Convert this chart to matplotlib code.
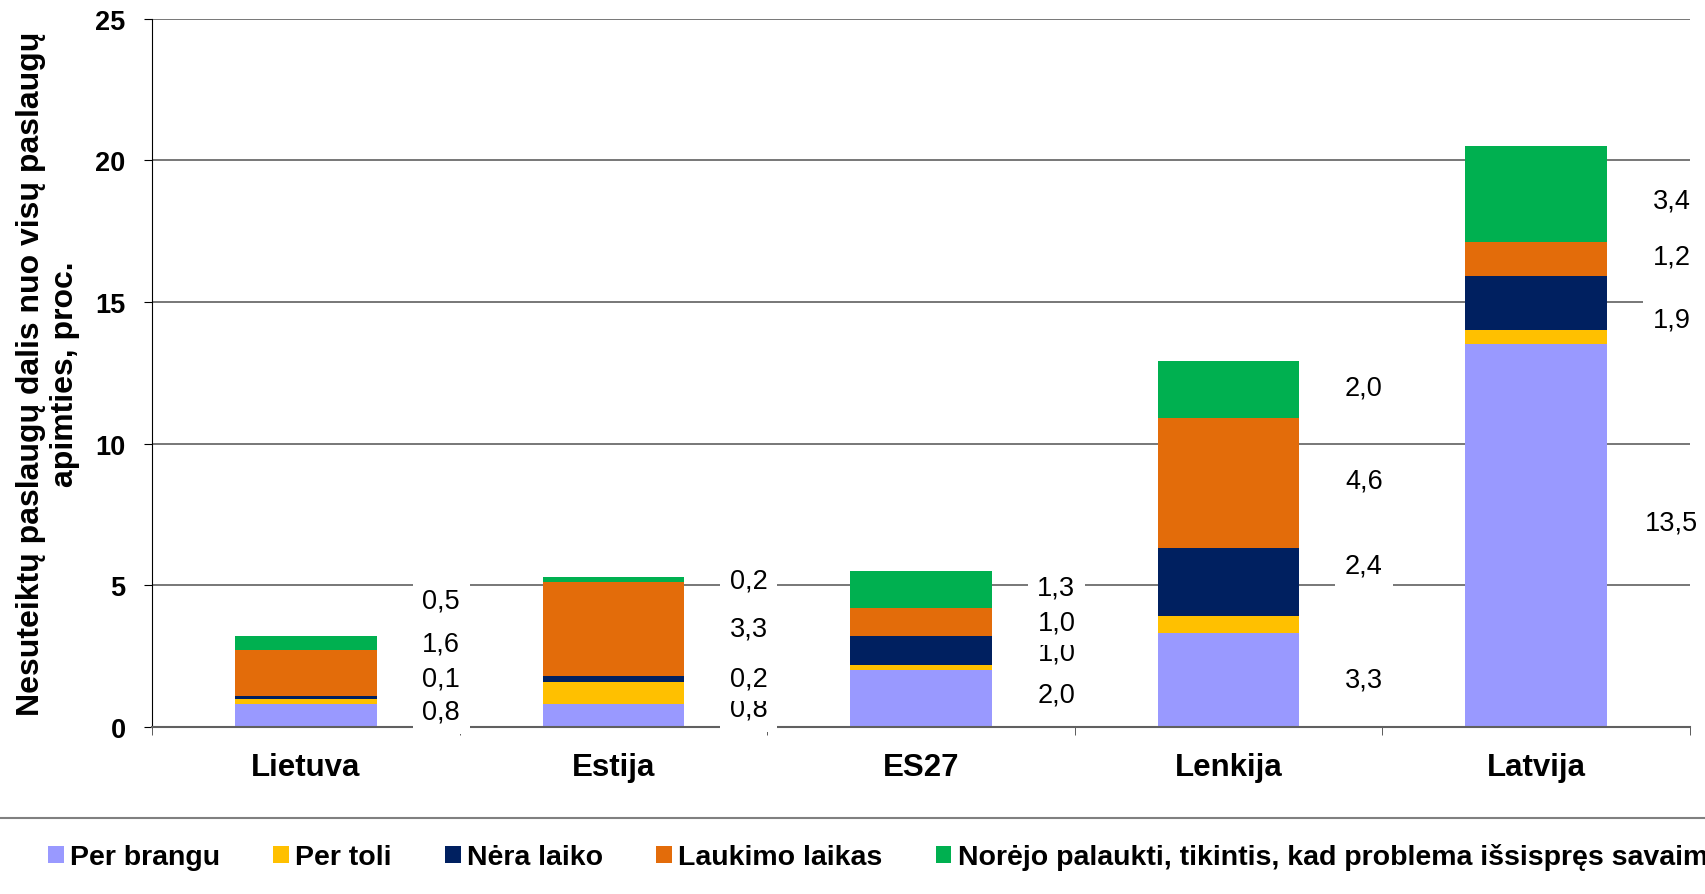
import numpy as np
import matplotlib
matplotlib.use("Agg")
import matplotlib.pyplot as plt
from matplotlib.patches import Patch
from matplotlib.lines import Line2D

plt.rcParams['font.family'] = ['Liberation Sans', 'DejaVu Sans']

# data (bottom -> top of each stack)
categories = ['Lietuva', 'Estija', 'ES27', 'Lenkija', 'Latvija']
per_brangu = [0.8, 0.8, 2.0, 3.3, 13.5]
per_toli = [0.2, 0.8, 0.2, 0.6, 0.5]
nera_laiko = [0.1, 0.2, 1.0, 2.4, 1.9]
laukimo_laikas = [1.6, 3.3, 1.0, 4.6, 1.2]
norejo_palaukti = [0.5, 0.2, 1.3, 2.0, 3.4]

series_names = ['Per brangu', 'Per toli', 'Nėra laiko', 'Laukimo laikas',
                'Norėjo palaukti, tikintis, kad problema išsispręs savaime']
series_colors = ['#9999FF', '#FFC000', '#002060', '#E36C0A', '#00B050']

# labelled series and where the labels sit (they are spread out, not centred)
labelled = [per_brangu, nera_laiko, laukimo_laikas, norejo_palaukti]
label_y = [
    [0.54, 1.72, 2.93, 4.46],
    [0.64, 1.72, 3.49, 5.17],
    [1.16, 2.63, 3.69, 4.92],
    [1.69, 5.70, 8.71, 11.99],
    [7.22, 14.37, 16.61, 18.58],
]

W, H = 1706, 895
fig = plt.figure(figsize=(W / 100, H / 100), dpi=100)
ax = fig.add_axes([152 / W, 1 - 728 / H, (1690 - 152) / W, (728 - 19.6) / H])
ax.set_axisbelow(True)

x = np.arange(len(categories))
bottom = np.zeros(len(categories))
series = [per_brangu, per_toli, nera_laiko, laukimo_laikas, norejo_palaukti]
for vals, color, name in zip(series, series_colors, series_names):
    ax.bar(x, vals, width=0.46, bottom=bottom, color=color, label=name,
           edgecolor='none')
    bottom += np.array(vals)

# value labels to the right of each bar
for i in range(len(categories)):
    for k, vals in enumerate(labelled):
        txt = '{:.1f}'.format(vals[i]).replace('.', ',')
        ax.text(i + 0.44, label_y[i][k], txt, ha='center', va='center',
                fontsize=19.5, zorder=4,
                bbox=dict(facecolor='white', edgecolor='none', pad=7))

ax.set_xlim(-0.5, len(categories) - 0.5)
ax.set_ylim(0, 25)
ax.set_yticks(range(0, 26, 5))
ax.set_yticklabels([str(v) for v in range(0, 26, 5)], fontsize=19.5, fontweight='bold')
ax.yaxis.grid(True, color='#606060', lw=1.2)

ax.set_xticks(x)
ax.set_xticklabels(categories, fontsize=22.5, fontweight='bold')
ax.set_xticks(np.arange(-0.5, len(categories), 1), minor=True)
ax.tick_params(axis='x', which='major', length=0, pad=18)
ax.tick_params(axis='x', which='minor', length=6, color='#404040')
ax.tick_params(axis='y', length=6, pad=13)

for s in ['top', 'right']:
    ax.spines[s].set_visible(False)
ax.spines['left'].set_color('black')
ax.spines['bottom'].set_color('#606060')
ax.spines['bottom'].set_linewidth(1.5)

fig.text(48 / W, 1 - 374 / H,
         'Nesuteiktų paslaugų dalis nuo visų paslaugų\napimties, proc.',
         rotation=90, ha='center', va='center', multialignment='center',
         fontsize=23, fontweight='bold')

# separator line above legend
fig.add_artist(Line2D([0, 1], [1 - 819 / H] * 2, transform=fig.transFigure,
                      color='#808080', lw=1.5))

handles = [Patch(facecolor=c, edgecolor='none') for c in series_colors]
fig.legend(handles, series_names, loc='center left',
           bbox_to_anchor=(48 / W, 1 - 858 / H), ncol=5, frameon=False,
           prop={'size': 20.5, 'weight': 'bold'},
           handlelength=0.55, handleheight=0.55, handletextpad=0.22,
           columnspacing=1.87, borderpad=0, borderaxespad=0)

fig.savefig('out.png', dpi=100)
